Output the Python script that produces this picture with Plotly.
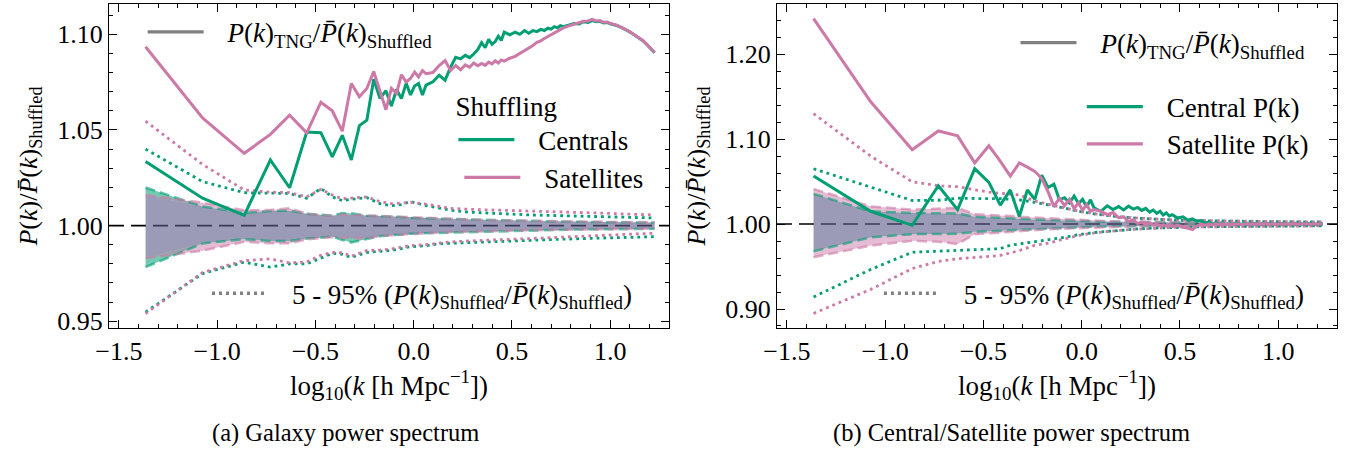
import numpy as np
import plotly.graph_objects as go

W, H = 1349, 455

# log10(k / h Mpc^-1) of the k bins, fine sampling used for the measured ratios
LOGK = [-1.364, -1.074, -0.862, -0.729, -0.631, -0.544, -0.472, -0.414, -0.363, -0.317,
        -0.276, -0.238, -0.203, -0.171, -0.141, -0.113, -0.087, -0.062, -0.038, -0.016,
        0.005, 0.025, 0.045, 0.063, 0.098, 0.130, 0.160, 0.188, 0.214, 0.239,
        0.263, 0.285, 0.306, 0.326, 0.346, 0.364, 0.382, 0.399, 0.415, 0.431,
        0.446, 0.461, 0.489, 0.516, 0.540, 0.564, 0.586, 0.607, 0.627, 0.647,
        0.665, 0.683, 0.700, 0.716, 0.732, 0.747, 0.762, 0.790, 0.817, 0.841,
        0.865, 0.887, 0.908, 0.929, 0.948, 0.966, 0.984, 1.001, 1.017, 1.033,
        1.048, 1.063, 1.077, 1.091, 1.105, 1.118, 1.130, 1.142, 1.154, 1.166,
        1.177, 1.188, 1.199, 1.209, 1.220, 1.226]

# (a) galaxy P(k)_TNG / mean shuffled P(k)
CEN_A = [1.0335, 1.0143, 1.0054, 1.0343, 1.0198, 1.0489, 1.0486, 1.0360, 1.0472, 1.0343,
         1.0523, 1.0551, 1.0765, 1.0665, 1.0705, 1.0625, 1.0712, 1.0664, 1.0745, 1.0683,
         1.0730, 1.0743, 1.0683, 1.0735, 1.0752, 1.0786, 1.0760, 1.0829, 1.0880, 1.0872,
         1.0890, 1.0878, 1.0897, 1.0920, 1.0957, 1.0930, 1.0974, 1.0948, 1.0962, 1.0990,
         1.0968, 1.1012, 1.0998, 1.1012, 1.1000, 1.1020, 1.1006, 1.1020, 1.1014, 1.1026,
         1.1020, 1.1032, 1.1027, 1.1040, 1.1034, 1.1045, 1.1040, 1.1050, 1.1057, 1.1054,
         1.1066, 1.1062, 1.1072, 1.1066, 1.1068, 1.1060, 1.1062, 1.1055, 1.1052, 1.1046,
         1.1040, 1.1033, 1.1025, 1.1018, 1.1009, 1.1001, 1.0993, 1.0985, 1.0976, 1.0967,
         1.0957, 1.0946, 1.0935, 1.0924, 1.0912, 1.0904]
SAT_A = [1.0935, 1.0563, 1.0378, 1.0477, 1.0577, 1.0485, 1.0645, 1.0600, 1.0494, 1.0743,
         1.0674, 1.0717, 1.0806, 1.0705, 1.0606, 1.0717, 1.0691, 1.0789, 1.0751, 1.0769,
         1.0803, 1.0777, 1.0811, 1.0794, 1.0800, 1.0837, 1.0863, 1.0811, 1.0837, 1.0815,
         1.0840, 1.0828, 1.0850, 1.0836, 1.0848, 1.0838, 1.0855, 1.0845, 1.0862, 1.0850,
         1.0866, 1.0860, 1.0875, 1.0885, 1.0900, 1.0912, 1.0930, 1.0942, 1.0958, 1.0966,
         1.0978, 1.0988, 1.0998, 1.1008, 1.1018, 1.1026, 1.1034, 1.1044, 1.1052, 1.1062,
         1.1068, 1.1070, 1.1078, 1.1070, 1.1072, 1.1063, 1.1064, 1.1057, 1.1053, 1.1048,
         1.1040, 1.1034, 1.1026, 1.1019, 1.1010, 1.1002, 1.0994, 1.0986, 1.0977, 1.0968,
         1.0957, 1.0947, 1.0936, 1.0924, 1.0913, 1.0905]

# (b) central / satellite P(k)_TNG / mean shuffled P(k)
CEN_B = [1.0566, 1.0150, 0.9985, 1.0451, 1.0170, 1.0651, 1.0490, 1.0222, 1.0401, 1.0088,
         1.0401, 1.0290, 1.0575, 1.0430, 1.0470, 1.0285, 1.0310, 1.0250, 1.0330, 1.0240,
         1.0290, 1.0200, 1.0285, 1.0190, 1.0150, 1.0215, 1.0170, 1.0205, 1.0165, 1.0210,
         1.0175, 1.0195, 1.0160, 1.0185, 1.0140, 1.0165, 1.0125, 1.0150, 1.0105, 1.0130,
         1.0095, 1.0110, 1.0070, 1.0085, 1.0045, 1.0060, 1.0030, 1.0040, 1.0010, 1.0025,
         0.9995, 1.0015, 0.9990, 1.0012, 0.9992, 1.0008, 0.9990, 1.0006, 0.9994, 1.0008,
         0.9995, 1.0005, 0.9993, 1.0006, 0.9996, 1.0004, 0.9994, 1.0005, 0.9996, 1.0004,
         0.9997, 1.0004, 0.9996, 1.0003, 0.9997, 1.0004, 0.9997, 1.0003, 0.9998, 1.0003,
         0.9997, 1.0002, 0.9998, 1.0002, 0.9999, 1.0001]
SAT_B = [1.2416, 1.1442, 1.0875, 1.1095, 1.1037, 1.0720, 1.0921, 1.0740, 1.0563, 1.0720,
         1.0670, 1.0620, 1.0535, 1.0382, 1.0208, 1.0304, 1.0215, 1.0290, 1.0180, 1.0250,
         1.0160, 1.0230, 1.0150, 1.0170, 1.0150, 1.0110, 1.0135, 1.0075, 1.0085, 1.0030,
         1.0050, 1.0005, 1.0025, 0.9995, 1.0015, 0.9985, 1.0000, 0.9978, 0.9990, 0.9975,
         0.9992, 0.9970, 0.9985, 0.9965, 0.9945, 0.9935, 0.9975, 1.0000, 0.9985, 1.0002,
         0.9988, 1.0004, 0.9990, 1.0006, 0.9992, 1.0005, 0.9990, 1.0004, 0.9993, 1.0005,
         0.9994, 1.0004, 0.9995, 1.0005, 0.9995, 1.0003, 0.9996, 1.0004, 0.9996, 1.0003,
         0.9997, 1.0003, 0.9997, 1.0003, 0.9998, 1.0002, 0.9998, 1.0002, 0.9998, 1.0002,
         0.9999, 1.0001, 0.9999, 1.0001, 0.9999, 1.0000]

# coarser k sampling for the shuffled-realisation percentiles
LOGK_C = [-1.364, -1.074, -0.862, -0.729, -0.631, -0.544, -0.472, -0.414, -0.363, -0.317,
          -0.238, -0.171, -0.113, -0.062, -0.016, 0.063, 0.130, 0.188, 0.285, 0.364,
          0.431, 0.489, 0.586, 0.665, 0.732, 0.790, 0.887, 0.966, 1.033, 1.091,
          1.142, 1.188, 1.226]

# (a) inner band (shaded) and 5/95 percentiles of shuffled / mean shuffled
A_CEN_HI = [1.0199, 1.0100, 1.0066, 1.0076, 1.0078, 1.0062, 1.0057, 1.0052, 1.0066, 1.0064,
            1.0052, 1.0050, 1.0048, 1.0045, 1.0040, 1.0038, 1.0035, 1.0032, 1.0030, 1.0028,
            1.0026, 1.0025, 1.0023, 1.0022, 1.0021, 1.0020, 1.0019, 1.0018, 1.0018, 1.0017,
            1.0017, 1.0016, 1.0016]
A_CEN_LO = [0.9783, 0.9907, 0.9929, 0.9920, 0.9920, 0.9932, 0.9937, 0.9943, 0.9925, 0.9912,
            0.9930, 0.9945, 0.9950, 0.9952, 0.9958, 0.9960, 0.9964, 0.9966, 0.9968, 0.9970,
            0.9972, 0.9974, 0.9976, 0.9977, 0.9978, 0.9979, 0.9980, 0.9981, 0.9981, 0.9982,
            0.9982, 0.9983, 0.9983]
A_SAT_HI = [1.0160, 1.0120, 1.0080, 1.0082, 1.0091, 1.0062, 1.0055, 1.0050, 1.0058, 1.0056,
            1.0054, 1.0050, 1.0048, 1.0046, 1.0042, 1.0039, 1.0036, 1.0033, 1.0031, 1.0029,
            1.0027, 1.0026, 1.0024, 1.0023, 1.0022, 1.0021, 1.0020, 1.0019, 1.0019, 1.0018,
            1.0018, 1.0017, 1.0017]
A_SAT_LO = [0.9830, 0.9869, 0.9915, 0.9908, 0.9908, 0.9928, 0.9935, 0.9940, 0.9937, 0.9936,
            0.9932, 0.9946, 0.9950, 0.9953, 0.9957, 0.9961, 0.9964, 0.9966, 0.9969, 0.9971,
            0.9973, 0.9974, 0.9976, 0.9977, 0.9978, 0.9979, 0.9980, 0.9981, 0.9982, 0.9982,
            0.9983, 0.9983, 0.9984]
A_CEN_P95 = [1.0400, 1.0230, 1.0172, 1.0171, 1.0168, 1.0143, 1.0194, 1.0150, 1.0131, 1.0138,
             1.0146, 1.0115, 1.0104, 1.0110, 1.0126, 1.0105, 1.0090, 1.0080, 1.0070, 1.0066,
             1.0062, 1.0058, 1.0056, 1.0054, 1.0052, 1.0050, 1.0048, 1.0046, 1.0044, 1.0043,
             1.0042, 1.0041, 1.0040]
A_SAT_P95 = [1.0546, 1.0320, 1.0186, 1.0175, 1.0172, 1.0150, 1.0190, 1.0160, 1.0140, 1.0145,
             1.0150, 1.0125, 1.0115, 1.0118, 1.0122, 1.0112, 1.0100, 1.0090, 1.0085, 1.0083,
             1.0080, 1.0078, 1.0077, 1.0075, 1.0074, 1.0072, 1.0068, 1.0065, 1.0062, 1.0060,
             1.0058, 1.0057, 1.0056]
A_CEN_P05 = [0.9548, 0.9749, 0.9809, 0.9783, 0.9800, 0.9800, 0.9830, 0.9855, 0.9850, 0.9834,
             0.9860, 0.9865, 0.9870, 0.9880, 0.9890, 0.9895, 0.9905, 0.9908, 0.9912, 0.9915,
             0.9917, 0.9918, 0.9922, 0.9925, 0.9928, 0.9930, 0.9933, 0.9935, 0.9937, 0.9939,
             0.9940, 0.9941, 0.9942]
A_SAT_P05 = [0.9540, 0.9755, 0.9817, 0.9826, 0.9805, 0.9810, 0.9845, 0.9860, 0.9858, 0.9840,
             0.9870, 0.9872, 0.9878, 0.9885, 0.9895, 0.9900, 0.9910, 0.9915, 0.9920, 0.9922,
             0.9925, 0.9928, 0.9932, 0.9935, 0.9938, 0.9940, 0.9945, 0.9948, 0.9952, 0.9955,
             0.9957, 0.9958, 0.9960]

# (b) inner band (shaded) and 5/95 percentiles
B_CEN_HI = [1.0355, 1.0150, 1.0130, 1.0130, 1.0125, 1.0085, 1.0080, 1.0075, 1.0068, 1.0060,
            1.0052, 1.0045, 1.0040, 1.0037, 1.0035, 1.0030, 1.0027, 1.0025, 1.0022, 1.0019,
            1.0017, 1.0016, 1.0014, 1.0013, 1.0012, 1.0011, 1.0010, 1.0010, 1.0009, 1.0009,
            1.0009, 1.0009, 1.0009]
B_CEN_LO = [0.9680, 0.9842, 0.9881, 0.9881, 0.9885, 0.9908, 0.9915, 0.9925, 0.9930, 0.9938,
            0.9945, 0.9950, 0.9955, 0.9958, 0.9960, 0.9968, 0.9972, 0.9975, 0.9978, 0.9981,
            0.9983, 0.9984, 0.9986, 0.9987, 0.9988, 0.9989, 0.9990, 0.9990, 0.9991, 0.9991,
            0.9991, 0.9991, 0.9991]
B_SAT_HI = [1.0413, 1.0208, 1.0170, 1.0185, 1.0190, 1.0115, 1.0110, 1.0100, 1.0095, 1.0085,
            1.0075, 1.0065, 1.0058, 1.0052, 1.0046, 1.0040, 1.0035, 1.0030, 1.0026, 1.0023,
            1.0020, 1.0018, 1.0016, 1.0015, 1.0014, 1.0013, 1.0012, 1.0011, 1.0010, 1.0010,
            1.0010, 1.0010, 1.0010]
B_SAT_LO = [0.9610, 0.9746, 0.9803, 0.9790, 0.9765, 0.9881, 0.9890, 0.9900, 0.9910, 0.9919,
            0.9930, 0.9938, 0.9943, 0.9948, 0.9952, 0.9960, 0.9965, 0.9970, 0.9974, 0.9977,
            0.9980, 0.9982, 0.9984, 0.9985, 0.9986, 0.9987, 0.9988, 0.9989, 0.9990, 0.9990,
            0.9990, 0.9990, 0.9990]
B_CEN_P95 = [1.0651, 1.0430, 1.0277, 1.0280, 1.0304, 1.0300, 1.0304, 1.0300, 1.0290, 1.0285,
             1.0255, 1.0230, 1.0200, 1.0175, 1.0150, 1.0120, 1.0100, 1.0085, 1.0068, 1.0058,
             1.0050, 1.0045, 1.0040, 1.0036, 1.0034, 1.0032, 1.0030, 1.0028, 1.0027, 1.0026,
             1.0025, 1.0025, 1.0024]
B_SAT_P95 = [1.1299, 1.0800, 1.0497, 1.0450, 1.0439, 1.0400, 1.0375, 1.0362, 1.0350, 1.0343,
             1.0270, 1.0235, 1.0210, 1.0180, 1.0152, 1.0122, 1.0102, 1.0087, 1.0070, 1.0060,
             1.0052, 1.0047, 1.0042, 1.0038, 1.0035, 1.0033, 1.0031, 1.0029, 1.0028, 1.0027,
             1.0026, 1.0026, 1.0025]
B_CEN_P05 = [0.9141, 0.9465, 0.9668, 0.9680, 0.9688, 0.9700, 0.9705, 0.9710, 0.9750, 0.9765,
             0.9795, 0.9810, 0.9835, 0.9855, 0.9875, 0.9900, 0.9915, 0.9928, 0.9942, 0.9952,
             0.9958, 0.9962, 0.9966, 0.9969, 0.9971, 0.9972, 0.9974, 0.9975, 0.9976, 0.9977,
             0.9978, 0.9978, 0.9979]
B_SAT_P05 = [0.8948, 0.9230, 0.9476, 0.9560, 0.9592, 0.9610, 0.9622, 0.9630, 0.9660, 0.9688,
             0.9750, 0.9775, 0.9810, 0.9840, 0.9865, 0.9895, 0.9912, 0.9925, 0.9940, 0.9950,
             0.9957, 0.9962, 0.9966, 0.9968, 0.9970, 0.9971, 0.9973, 0.9974, 0.9975, 0.9976,
             0.9977, 0.9977, 0.9978]

X_RANGE = [-1.55, 1.30]
Y_RANGE_A = [0.9464, 1.1159]
Y_RANGE_B = [0.8775, 1.259]

GREEN = "#009E73"
PINK = "#CC79A7"
GREY = "#808080"
FONT = "'Liberation Serif', 'Times New Roman', Times, serif"

P_BAR = "<i>P\u0304</i>"
TNG_LABEL = "<i>P</i>(<i>k</i>)<sub>TNG</sub>/" + P_BAR + "(<i>k</i>)<sub>Shuffled</sub>"
PCT_LABEL = ("5 - 95% (<i>P</i>(<i>k</i>)<sub>Shuffled</sub>/" + P_BAR +
             "(<i>k</i>)<sub>Shuffled</sub>)")
Y_LABEL = "<i>P</i>(<i>k</i>)/" + P_BAR + "(<i>k</i>)<sub>Shuffled</sub>"
X_LABEL = "log<sub>10</sub>(<i>k</i> [h Mpc<sup>\u22121</sup>])"


def px(x):
    return x / W


def py(y):
    return 1 - y / H


fig = go.Figure()


def fill_between(xa, ya, lo, hi, color):
    fig.add_trace(go.Scatter(x=LOGK_C, y=lo, mode="lines", line=dict(width=0),
                             hoverinfo="skip", showlegend=False, xaxis=xa, yaxis=ya))
    fig.add_trace(go.Scatter(x=LOGK_C, y=hi, mode="lines", line=dict(width=0),
                             fill="tonexty", fillcolor=color, hoverinfo="skip",
                             showlegend=False, xaxis=xa, yaxis=ya))


def line(xa, ya, x, y, color, width, dash="solid"):
    fig.add_trace(go.Scatter(x=x, y=y, mode="lines",
                             line=dict(color=color, width=width, dash=dash),
                             hoverinfo="skip", showlegend=False, xaxis=xa, yaxis=ya))


def panel(xa, ya, cen, sat, cen_hi, cen_lo, sat_hi, sat_lo, c95, c05, s95, s05):
    cen_hi, cen_lo = np.array(cen_hi), np.array(cen_lo)
    sat_hi, sat_lo = np.array(sat_hi), np.array(sat_lo)
    both_hi = np.minimum(cen_hi, sat_hi)
    both_lo = np.maximum(cen_lo, sat_lo)
    # parts of each band not shared with the other one
    fill_between(xa, ya, both_hi, cen_hi, "rgba(0,158,115,0.55)")
    fill_between(xa, ya, cen_lo, both_lo, "rgba(0,158,115,0.55)")
    fill_between(xa, ya, both_hi, sat_hi, "rgba(204,121,167,0.5)")
    fill_between(xa, ya, sat_lo, both_lo, "rgba(204,121,167,0.5)")
    # region covered by both bands
    fill_between(xa, ya, both_lo, both_hi, "rgba(96,94,138,0.62)")
    # band edges
    for arr in (cen_hi, cen_lo):
        line(xa, ya, LOGK_C, arr, "rgba(0,158,115,0.6)", 2.5, "10px,5px")
    for arr in (sat_hi, sat_lo):
        line(xa, ya, LOGK_C, arr, "rgba(204,121,167,0.6)", 2.5, "10px,5px")
    # 5 and 95 percentiles
    for arr in (c95, c05):
        line(xa, ya, LOGK_C, arr, GREEN, 2.8, "2.8px,4px")
    for arr in (s95, s05):
        line(xa, ya, LOGK_C, arr, PINK, 2.8, "2.8px,4px")
    # measured ratios
    line(xa, ya, LOGK, cen, GREEN, 3)
    line(xa, ya, LOGK, sat, PINK, 3)


panel("x", "y", CEN_A, SAT_A, A_CEN_HI, A_CEN_LO, A_SAT_HI, A_SAT_LO,
      A_CEN_P95, A_CEN_P05, A_SAT_P95, A_SAT_P05)
panel("x2", "y2", CEN_B, SAT_B, B_CEN_HI, B_CEN_LO, B_SAT_HI, B_SAT_LO,
      B_CEN_P95, B_CEN_P05, B_SAT_P95, B_SAT_P05)

# reference line at unity, under the shaded bands
for xr, yr in (("x domain", "y"), ("x2 domain", "y2")):
    fig.add_shape(type="line", xref=xr, yref=yr, x0=0, x1=1, y0=1.0, y1=1.0,
                  line=dict(color="black", width=1.6, dash="15px,7px"), layer="below")


# legend entries
def key(name, color, dash, legend, xa, ya):
    fig.add_trace(go.Scatter(x=[None], y=[None], mode="lines", name=name,
                             line=dict(color=color, width=3.3, dash=dash),
                             legend=legend, xaxis=xa, yaxis=ya))


SP = "\u2002\u2009"
key(SP + TNG_LABEL, GREY, "solid", "legend", "x", "y")
key(SP + "Centrals", GREEN, "solid", "legend2", "x", "y")
key(SP + "Satellites", PINK, "solid", "legend3", "x", "y")
key(SP + PCT_LABEL, GREY, "3px,4px", "legend4", "x", "y")
key(SP + TNG_LABEL, GREY, "solid", "legend5", "x2", "y2")
key(SP + "Central P(k)", GREEN, "solid", "legend6", "x2", "y2")
key(SP + "Satellite P(k)", PINK, "solid", "legend7", "x2", "y2")
key(SP + PCT_LABEL, GREY, "3px,4px", "legend8", "x2", "y2")

LEG_FONT = dict(family=FONT, size=27, color="black")


def leg(x, y, title=None):
    d = dict(x=px(x), y=py(y), xanchor="left", yanchor="top", bgcolor="rgba(0,0,0,0)",
             borderwidth=0, font=LEG_FONT, itemwidth=56, itemclick=False,
             itemdoubleclick=False)
    if title:
        d["title"] = dict(text=title, font=LEG_FONT, side="top")
    return d


axis_font = dict(family=FONT, size=26, color="black")


def xaxis(domain, anchor):
    return dict(domain=domain, anchor=anchor, range=X_RANGE, dtick=0.5, tick0=0,
                tickformat=".1f", showline=True, linecolor="black", linewidth=1.3,
                mirror="allticks", ticks="inside", ticklen=8, tickwidth=1.3,
                tickcolor="black", showgrid=False, zeroline=False, tickfont=axis_font,
                minor=dict(ticks="inside", ticklen=4, tickwidth=1.1, dtick=0.1,
                           tickcolor="black", showgrid=False),
                title=dict(text=X_LABEL, font=dict(family=FONT, size=27, color="black"),
                           standoff=4))


def yaxis(domain, anchor, rng, dtick, mdtick):
    return dict(domain=domain, anchor=anchor, range=rng, dtick=dtick, tick0=0,
                tickformat=".2f", showline=True, linecolor="black", linewidth=1.3,
                mirror="allticks", ticks="inside", ticklen=8, tickwidth=1.3,
                tickcolor="black", showgrid=False, zeroline=False, tickfont=axis_font,
                minor=dict(ticks="inside", ticklen=4, tickwidth=1.1, dtick=mdtick,
                           tickcolor="black", showgrid=False),
                title=dict(text=Y_LABEL, font=axis_font, standoff=12))


CAP_FONT = dict(family=FONT, size=24.5, color="black")
ydom = [py(334), py(4)]
fig.update_layout(
    width=W, height=H, margin=dict(l=0, r=0, t=0, b=0),
    paper_bgcolor="white", plot_bgcolor="white",
    font=dict(family=FONT, color="black", size=26),
    xaxis=xaxis([px(96), px(662)], "y"),
    yaxis=yaxis(ydom, "x", Y_RANGE_A, 0.05, 0.01),
    xaxis2=xaxis([px(771), px(1337)], "y2"),
    yaxis2=yaxis(ydom, "x2", Y_RANGE_B, 0.1, 0.02),
    legend=leg(130, 8),
    legend2=leg(444, 82, "Shuffling"),
    legend3=leg(450, 156),
    legend4=leg(195, 274),
    legend5=leg(1012, 19),
    legend6=leg(1079, 84),
    legend7=leg(1079, 122),
    legend8=leg(874, 274),
    annotations=[
        dict(text="(a) Galaxy power spectrum", x=px(335), y=py(441), xref="paper",
             yref="paper", xanchor="center", yanchor="middle", showarrow=False,
             font=CAP_FONT),
        dict(text="(b) Central/Satellite power spectrum", x=px(1008), y=py(441),
             xref="paper", yref="paper", xanchor="center", yanchor="middle",
             showarrow=False, font=CAP_FONT),
    ],
)

fig.write_html("out.html")
